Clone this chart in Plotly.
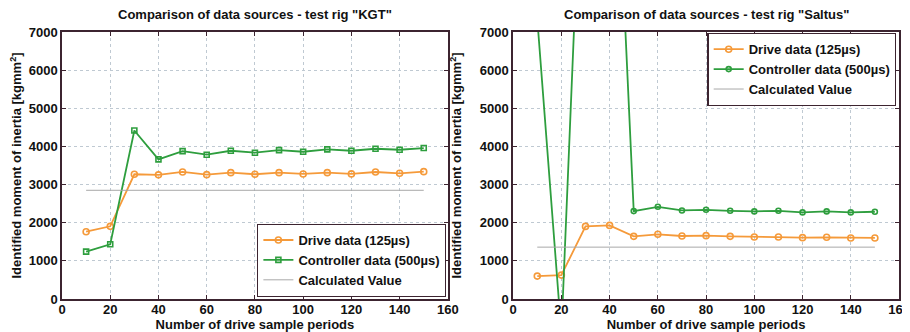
import plotly.graph_objects as go
from plotly.subplots import make_subplots

periods = [10, 20, 30, 40, 50, 60, 70, 80, 90, 100, 110, 120, 130, 140, 150]

kgt_drive = [1765, 1905, 3270, 3255, 3330, 3260, 3313, 3270, 3313, 3278, 3313, 3280, 3330, 3296, 3339]
kgt_controller = [1243, 1435, 4417, 3661, 3878, 3783, 3887, 3835, 3904, 3861, 3922, 3887, 3939, 3913, 3957]
kgt_calculated = 2850

saltus_drive = [600, 626, 1904, 1930, 1643, 1696, 1652, 1661, 1643, 1626, 1626, 1609, 1617, 1600, 1600]
saltus_controller = [7350, -900, 14300, 16000, 2304, 2417, 2322, 2339, 2313, 2296, 2313, 2270, 2296, 2270, 2287]
saltus_calculated = 1360

calc_x = [periods[0], periods[-1]]

titles = ['Comparison of data sources - test rig "KGT"',
          'Comparison of data sources - test rig "Saltus"']

ORANGE = "#F59A3A"
GREEN = "#2E9E3E"
GREY = "#A8A8A8"
AXIS = "#3C2430"
GRID = "#BFC9D2"
FONT = "Liberation Sans"
FS = 13

fig = make_subplots(rows=1, cols=2, horizontal_spacing=0.078)

def add_panel(col, drive, ctrl, calc, ctrl_symbol, legend):
    fig.add_trace(go.Scatter(
        x=periods, y=drive, mode="lines+markers", name="Drive data (125µs)",
        line=dict(color=ORANGE, width=1.8),
        marker=dict(symbol="circle-open", size=6, color=ORANGE, line=dict(width=1.6)),
        legend=legend), row=1, col=col)
    fig.add_trace(go.Scatter(
        x=periods, y=ctrl, mode="lines+markers", name="Controller data (500µs)",
        line=dict(color=GREEN, width=1.8),
        marker=dict(symbol=ctrl_symbol, size=5, color=GREEN, line=dict(width=1.6)),
        legend=legend), row=1, col=col)
    fig.add_trace(go.Scatter(
        x=calc_x, y=[calc, calc], mode="lines", name="Calculated Value",
        line=dict(color=GREY, width=1),
        legend=legend), row=1, col=col)

add_panel(1, kgt_drive, kgt_controller, kgt_calculated, "square-open", "legend")
add_panel(2, saltus_drive, saltus_controller, saltus_calculated, "circle-open", "legend2")

tfont = dict(family=FONT, size=FS, color="#111", weight="bold")

axis_common = dict(
    showline=True, linecolor=AXIS, linewidth=1.5, mirror="ticks",
    ticks="inside", ticklen=4, tickcolor=AXIS, tickwidth=1.2,
    showgrid=True, gridcolor=GRID, griddash="dot", gridwidth=1,
    zeroline=False, automargin=False,
    tickfont=tfont,
)

for i in (1, 2):
    fig.update_xaxes(range=[0, 160], dtick=20, ticklabelstandoff=-2, **axis_common,
                     title=dict(text="Number of drive sample periods", font=tfont),
                     row=1, col=i)
    fig.update_yaxes(range=[0, 7000], dtick=1000, **axis_common,
                     title=dict(text="Identified moment of inertia [kgmm<sup>2</sup>]",
                                font=tfont),
                     row=1, col=i)

dom1 = fig.layout.xaxis.domain
dom2 = fig.layout.xaxis2.domain
for dom, t in zip((dom1, dom2), titles):
    fig.add_annotation(text=t, x=(dom[0] + dom[1]) / 2, y=1.0, xref="paper", yref="paper",
                       xanchor="center", yanchor="bottom", yshift=8, showarrow=False,
                       font=tfont)

legend_style = dict(
    bgcolor="white", bordercolor=AXIS, borderwidth=1.2,
    font=tfont, tracegroupgap=0, itemwidth=30,
)

# page body adds an 8px offset; figure size and margins compensate for it
fig.update_layout(
    width=902, height=324,
    margin=dict(l=54, r=11, t=24, b=33),
    paper_bgcolor="white", plot_bgcolor="white",
    font=dict(family=FONT, size=FS, color="#111"),
    legend=dict(x=dom1[1] - 0.002, y=0.008, xanchor="right", yanchor="bottom", **legend_style),
    legend2=dict(x=0.997, y=0.996, xanchor="right", yanchor="top", **legend_style),
)

fig.write_html("out.html")
